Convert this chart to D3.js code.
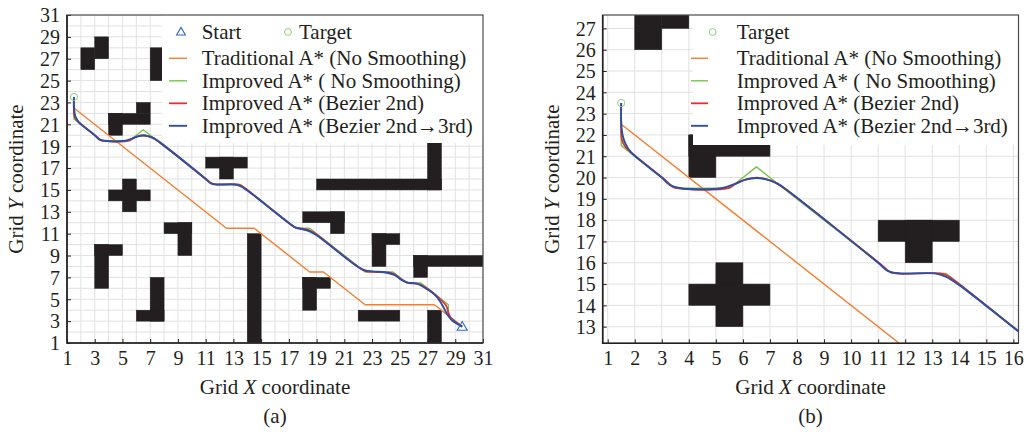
<!DOCTYPE html>
<html>
<head>
<meta charset="utf-8">
<script src="https://cdn.jsdelivr.net/npm/d3@7"></script>
<style>
  body { margin: 0; background: #fff; }
  text { font-family: "Liberation Serif", "Times New Roman", serif; fill: #231f20; }
</style>
</head>
<body>
<script>
// obstacle cells as [x0, x1, y0, y1] in grid units
const obstacles = [
  [2, 3, 26, 28], [3, 4, 27, 29], [7, 8, 25, 28],
  [4, 5, 20, 22], [4, 7, 21, 22], [6, 7, 22, 23],
  [5, 6, 13, 16], [4, 7, 14, 15],
  [3, 5, 9, 10], [3, 4, 6, 10],
  [7, 8, 3, 7], [6, 8, 3, 4],
  [8, 10, 11, 12], [9, 10, 9, 12],
  [14, 15, 1, 11],
  [11, 14, 17, 18], [12, 13, 16, 18],
  [19, 28, 15, 16], [27, 28, 15, 20],
  [18, 21, 12, 13], [20, 21, 11, 13],
  [23, 25, 10, 11], [23, 24, 8, 11],
  [26, 31, 8, 9], [26, 27, 7, 9],
  [18, 20, 6, 7], [18, 19, 4, 7],
  [22, 25, 3, 4], [27, 28, 1, 4]
];

const startPoint = [29.5, 2.5];
const targetPoint = [1.5, 23.5];

const traditionalPath = [
  [1.5, 23.5], [1.5, 22.5], [12.5, 11.5], [14.5, 11.5], [18.5, 7.5], [19.5, 7.5],
  [22.5, 4.5], [27.5, 4.5], [29.5, 2.5]
];

const improvedPath = [
  [1.5, 23.5], [1.5, 21.5], [3.5, 19.5], [5.5, 19.5], [6.5, 20.5], [11.5, 15.5],
  [13.5, 15.5], [17.5, 11.5], [18.5, 11.5], [22.5, 7.5], [24.5, 7.5], [25.5, 6.5],
  [26.5, 6.5], [28.5, 4.5], [28.5, 3.5], [29.5, 2.5]
];

const bezier2Path = [
  [1.5, 23.5], [1.5, 22.1], [1.53, 21.75], [1.62, 21.5], [1.8, 21.25],
  [3.2, 19.8], [3.35, 19.6], [3.55, 19.5],
  [5.45, 19.5], [5.8, 19.76], [6.15, 19.93], [6.5, 20.0], [6.85, 19.93], [7.2, 19.76], [7.55, 19.47],
  [11.2, 15.82], [11.4, 15.6], [11.65, 15.5],
  [13.3, 15.5], [13.55, 15.4], [13.85, 15.15],
  [17.2, 11.78], [17.5, 11.55], [18.0, 11.45], [18.5, 11.3], [18.8, 11.1],
  [22.2, 7.78], [22.6, 7.55], [23.0, 7.5], [24.2, 7.45], [24.6, 7.3],
  [25.2, 6.75], [25.6, 6.5], [26.3, 6.4], [26.7, 6.2],
  [28.0, 4.9], [28.35, 4.4], [28.5, 3.8], [28.65, 3.35], [29.5, 2.5]
];

const bezier23Path = [
  [1.5, 23.5], [1.5, 22.6], [1.55, 22.0], [1.65, 21.6], [1.85, 21.2],
  [3.0, 20.0], [3.3, 19.65], [3.7, 19.5],
  [5.2, 19.5], [5.7, 19.7], [6.1, 19.9], [6.5, 19.98], [6.9, 19.9], [7.3, 19.7], [7.7, 19.35],
  [11.0, 16.0], [11.35, 15.62], [11.8, 15.5],
  [13.1, 15.5], [13.5, 15.35], [14.0, 14.95],
  [17.0, 11.98], [17.5, 11.55], [18.0, 11.4], [18.5, 11.22], [19.0, 10.85],
  [22.0, 7.95], [22.5, 7.65], [23.1, 7.55], [24.0, 7.45], [24.65, 7.2],
  [25.1, 6.8], [25.5, 6.55], [26.3, 6.4], [26.8, 6.05],
  [27.5, 5.45], [28.0, 4.62], [28.38, 3.71], [28.74, 3.1], [29.5, 2.5]
];

const seriesLabels = [
  "Traditional A* (No Smoothing)",
  "Improved A* ( No Smoothing)",
  "Improved A* (Bezier 2nd)",
  "Improved A* (Bezier 2nd\u21923rd)"
];
const seriesColors = ["#f47f30", "#77c350", "#e8312f", "#2b4fa3"];
const seriesWidths = [1.4, 1.4, 1.8, 1.9];

const xTicksA = [1, 3, 5, 7, 9, 11, 13, 15, 17, 19, 21, 23, 25, 27, 29, 31];
const yTicksA = [1, 3, 5, 7, 9, 11, 13, 15, 17, 19, 21, 23, 25, 27, 29, 31];
const xTicksB = [1, 2, 3, 4, 5, 6, 7, 8, 9, 10, 11, 12, 13, 14, 15, 16];
const yTicksB = [13, 14, 15, 16, 17, 18, 19, 20, 21, 22, 23, 24, 25, 26, 27];

const svg = d3.select("body").append("svg")
  .attr("width", 1028)
  .attr("height", 432);

const panels = [
  {
    id: "a", left: 67, right: 483, top: 15, bottom: 343,
    xDomain: [1, 31], yDomain: [1, 31], xTicks: xTicksA, yTicks: yTicksA,
    legend: { x: 162, y: 15, w: 321, h: 128, lineX0: 169, lineX1: 187, textX: 201.7 },
    showStart: true, startMarkX: 181, targetMarkX: 288, targetTextX: 299
  },
  {
    id: "b", left: 602.7, right: 1018.5, top: 15, bottom: 343.3,
    xDomain: [0.815, 16.19], yDomain: [12.22, 27.63], xTicks: xTicksB, yTicks: yTicksB,
    legend: { x: 693, y: 15, w: 325.5, h: 130, lineX0: 691, lineX1: 708, textX: 736.7 },
    showStart: false, targetMarkX: 712.7, targetTextX: 736.7
  }
];

panels.forEach(p => drawPanel(p));

function drawPanel(p) {
  const x = d3.scaleLinear().domain(p.xDomain).range([p.left, p.right]);
  const y = d3.scaleLinear().domain(p.yDomain).range([p.bottom, p.top]);
  const g = svg.append("g");

  g.append("clipPath").attr("id", "clip-" + p.id)
    .append("rect")
    .attr("x", p.left).attr("y", p.top)
    .attr("width", p.right - p.left).attr("height", p.bottom - p.top);

  const inner = g.append("g").attr("clip-path", "url(#clip-" + p.id + ")");

  // grid every cell
  const gx = d3.range(Math.ceil(p.xDomain[0]), Math.floor(p.xDomain[1]) + 1);
  const gy = d3.range(Math.ceil(p.yDomain[0]), Math.floor(p.yDomain[1]) + 1);
  inner.append("g").selectAll("line").data(gx).join("line")
    .attr("x1", d => x(d)).attr("x2", d => x(d))
    .attr("y1", p.top).attr("y2", p.bottom)
    .attr("stroke", "#e1e1e1").attr("stroke-width", 1);
  inner.append("g").selectAll("line").data(gy).join("line")
    .attr("y1", d => y(d)).attr("y2", d => y(d))
    .attr("x1", p.left).attr("x2", p.right)
    .attr("stroke", "#e1e1e1").attr("stroke-width", 1);

  // obstacles
  inner.append("g").selectAll("rect").data(obstacles).join("rect")
    .attr("x", d => x(d[0]))
    .attr("y", d => y(d[3]))
    .attr("width", d => x(d[1]) - x(d[0]))
    .attr("height", d => y(d[2]) - y(d[3]))
    .attr("fill", "#231f20")
    .attr("stroke", "#231f20")
    .attr("stroke-width", 0.5);

  // paths
  const polyline = d3.line().x(d => x(d[0])).y(d => y(d[1]));
  const smooth = d3.line().x(d => x(d[0])).y(d => y(d[1])).curve(d3.curveCatmullRom.alpha(0.5));
  const paths = [traditionalPath, improvedPath, bezier2Path, bezier23Path];
  paths.forEach((pts, i) => {
    inner.append("path")
      .datum(pts)
      .attr("d", i < 2 ? polyline : smooth)
      .attr("fill", "none")
      .attr("stroke", seriesColors[i])
      .attr("stroke-width", seriesWidths[i])
      .attr("stroke-linejoin", "round");
  });

  // markers
  inner.append("circle")
    .attr("cx", x(targetPoint[0])).attr("cy", y(targetPoint[1])).attr("r", 3.6)
    .attr("fill", "none").attr("stroke", "#8ccf72").attr("stroke-width", 1);
  if (p.showStart) {
    inner.append("path")
      .attr("d", d3.symbol(d3.symbolTriangle, 44)())
      .attr("transform", "translate(" + x(startPoint[0]) + "," + (y(startPoint[1]) + 0.8) + ")")
      .attr("fill", "none").attr("stroke", "#2f67c8").attr("stroke-width", 1.1);
  }

  // legend
  const L = p.legend;
  const lg = g.append("g");
  lg.append("rect").attr("x", L.x).attr("y", L.y).attr("width", L.w).attr("height", L.h).attr("fill", "#fff");
  const baselines = [38.5, 65, 87.5, 110, 132.5];
  if (p.showStart) {
    lg.append("path")
      .attr("d", d3.symbol(d3.symbolTriangle, 34)())
      .attr("transform", "translate(" + p.startMarkX + ",32.5)")
      .attr("fill", "none").attr("stroke", "#2f67c8").attr("stroke-width", 1.1);
    lg.append("text").attr("x", L.textX).attr("y", baselines[0]).attr("font-size", 21).text("Start");
  }
  lg.append("circle").attr("cx", p.targetMarkX).attr("cy", 32).attr("r", 3.4)
    .attr("fill", "none").attr("stroke", "#8ccf72").attr("stroke-width", 1);
  lg.append("text").attr("x", p.targetTextX).attr("y", baselines[0]).attr("font-size", 21).text("Target");
  seriesLabels.forEach((lab, i) => {
    const by = baselines[i + 1];
    lg.append("line")
      .attr("x1", L.lineX0).attr("x2", L.lineX1)
      .attr("y1", by - 6.7).attr("y2", by - 6.7)
      .attr("stroke", seriesColors[i]).attr("stroke-width", seriesWidths[i]);
    lg.append("text").attr("x", L.textX).attr("y", by).attr("font-size", 21).text(lab);
  });

  // axes
  const xAxis = g.append("g")
    .attr("transform", "translate(0," + p.bottom + ")")
    .call(d3.axisBottom(x).tickValues(p.xTicks).tickSizeInner(-4).tickSizeOuter(0).tickPadding(8));
  const yAxis = g.append("g")
    .attr("transform", "translate(" + p.left + ",0)")
    .call(d3.axisLeft(y).tickValues(p.yTicks).tickSizeInner(-4).tickSizeOuter(0).tickPadding(7));
  [xAxis, yAxis].forEach(a => {
    a.select(".domain").remove();
    a.selectAll("line").attr("stroke", "#231f20");
    a.selectAll("text")
      .attr("font-size", 20)
      .attr("font-family", "Liberation Serif, Times New Roman, serif")
      .attr("fill", "#231f20");
  });
  yAxis.selectAll("text").attr("dy", "0.34em");

  // frame
  g.append("rect")
    .attr("x", p.left).attr("y", p.top)
    .attr("width", p.right - p.left).attr("height", p.bottom - p.top)
    .attr("fill", "none").attr("stroke", "#4a4a4a").attr("stroke-width", 1.2);
  g.append("path")
    .attr("d", "M" + p.left + "," + p.top + "V" + p.bottom + "H" + p.right)
    .attr("fill", "none").attr("stroke", "#231f20").attr("stroke-width", 1.6);

  // axis titles
  const cx = (p.left + p.right) / 2;
  const xt = g.append("text").attr("x", cx).attr("y", 394).attr("text-anchor", "middle").attr("font-size", 21);
  xt.append("tspan").text("Grid ");
  xt.append("tspan").attr("font-style", "italic").text("X");
  xt.append("tspan").text(" coordinate");

  const cy = (p.top + p.bottom) / 2;
  const yt = g.append("text")
    .attr("transform", "translate(" + (p.left - 44) + "," + cy + ") rotate(-90)")
    .attr("text-anchor", "middle").attr("font-size", 21);
  yt.append("tspan").text("Grid ");
  yt.append("tspan").attr("font-style", "italic").text("Y");
  yt.append("tspan").text(" coordinate");

  g.append("text").attr("x", cx).attr("y", 423).attr("text-anchor", "middle").attr("font-size", 21)
    .text("(" + p.id + ")");
}
</script>
</body>
</html>
